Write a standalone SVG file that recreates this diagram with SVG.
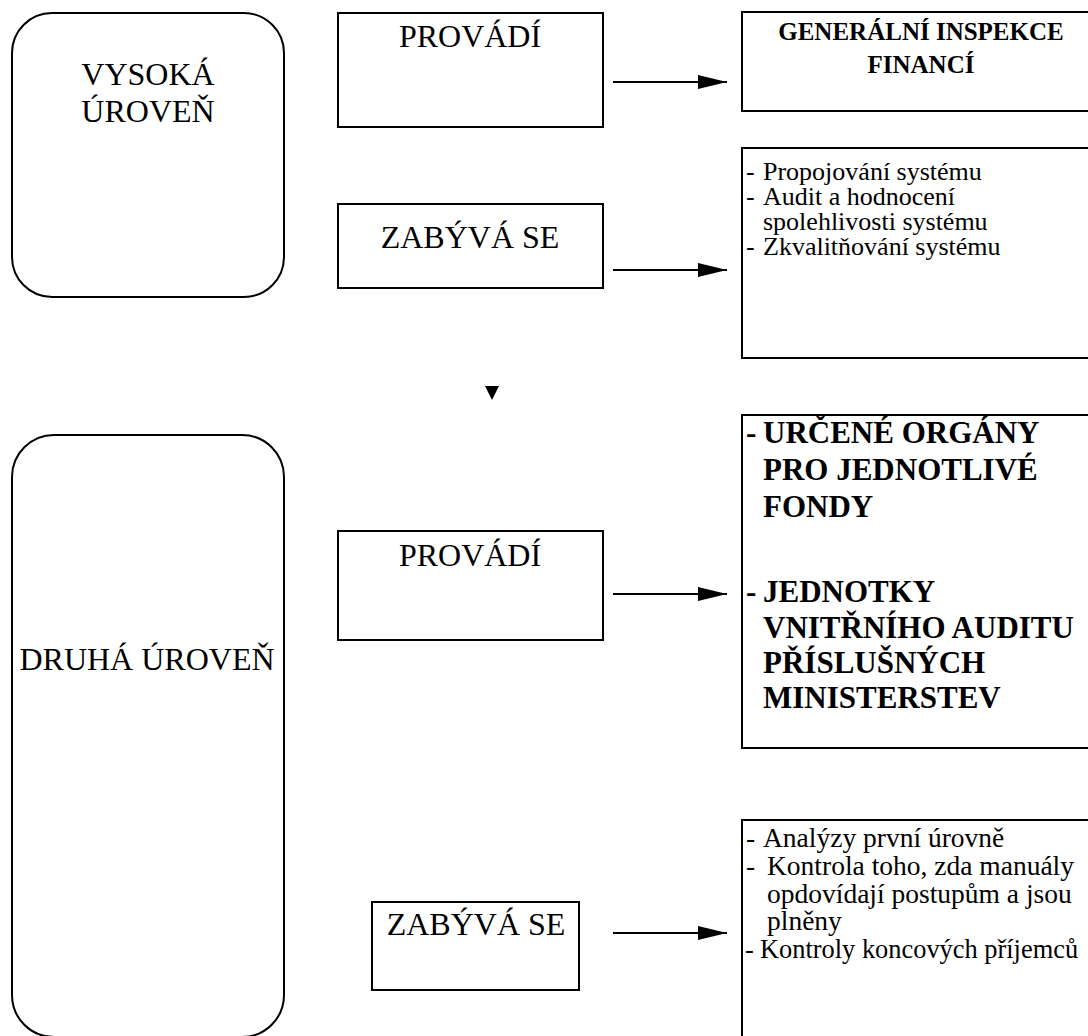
<svg xmlns="http://www.w3.org/2000/svg" width="1088" height="1036" viewBox="0 0 1088 1036">
<defs>
<style>
.box{fill:#fff;stroke:#000;stroke-width:2}
.t{font-family:"Liberation Serif","Times New Roman",serif;fill:#000}
.big{font-size:32px;text-anchor:middle}
.lst{font-size:26px}
.lst2{font-size:27.5px}
.lst3{font-size:26.4px}
.b1{font-size:25px;font-weight:bold;text-anchor:middle}
.b2{font-size:31px;font-weight:bold}
.conn{stroke:#000;stroke-width:2;fill:none}
</style>
<marker id="ah" markerUnits="userSpaceOnUse" markerWidth="30" markerHeight="14" refX="29" refY="7" orient="auto">
<path d="M0,0 L29,7 L0,14 Z" fill="#000"/>
</marker>
</defs>
<rect width="1088" height="1036" fill="#fff"/>
<g id="level-high">
<rect class="box" x="12" y="13" width="272" height="284" rx="40" ry="40"/>
<text class="t big" x="148" y="85">VYSOKÁ</text>
<text class="t big" x="148" y="122">ÚROVEŇ</text>
</g>
<g id="level-second">
<rect class="box" x="12" y="435" width="272" height="602" rx="42" ry="42"/>
<text class="t big" x="147" y="670">DRUHÁ ÚROVEŇ</text>
</g>
<g id="provadi-1">
<rect class="box" x="338" y="13" width="265" height="114"/>
<text class="t big" x="470" y="47">PROVÁDÍ</text>
</g>
<g id="zabyva-1">
<rect class="box" x="338" y="204" width="265" height="84"/>
<text class="t big" x="470" y="248">ZABÝVÁ SE</text>
</g>
<g id="provadi-2">
<rect class="box" x="338" y="531" width="265" height="109"/>
<text class="t big" x="470" y="566">PROVÁDÍ</text>
</g>
<g id="zabyva-2">
<rect class="box" x="372" y="902" width="207" height="88"/>
<text class="t big" x="476" y="935">ZABÝVÁ SE</text>
</g>
<g id="gif">
<rect class="box" x="742" y="12" width="360" height="99"/>
<text class="t b1" x="921" y="40">GENERÁLNÍ INSPEKCE</text>
<text class="t b1" x="921" y="73">FINANCÍ</text>
</g>
<g id="list-1">
<rect class="box" x="742" y="148" width="360" height="210"/>
<text class="t lst" x="746" y="180">-</text>
<text class="t lst" x="763" y="180">Propojování systému</text>
<text class="t lst" x="746" y="205">-</text>
<text class="t lst" x="763" y="205">Audit a hodnocení</text>
<text class="t lst" x="763" y="230">spolehlivosti systému</text>
<text class="t lst" x="746" y="255">-</text>
<text class="t lst" x="763" y="255">Zkvalitňování systému</text>
</g>
<g id="organy">
<rect class="box" x="742" y="415" width="360" height="333"/>
<text class="t b2" x="746" y="443">-</text>
<text class="t b2" x="763" y="443">URČENÉ ORGÁNY</text>
<text class="t b2" x="763" y="480">PRO JEDNOTLIVÉ</text>
<text class="t b2" x="763" y="517">FONDY</text>
<text class="t b2" x="746" y="602">-</text>
<text class="t b2" x="763" y="602">JEDNOTKY</text>
<text class="t b2" x="763" y="638">VNITŘNÍHO AUDITU</text>
<text class="t b2" x="763" y="673">PŘÍSLUŠNÝCH</text>
<text class="t b2" x="763" y="708">MINISTERSTEV</text>
</g>
<g id="list-2">
<rect class="box" x="742" y="820" width="360" height="240"/>
<text class="t lst2" x="746" y="847">-</text>
<text class="t lst2" x="763" y="847">Analýzy první úrovně</text>
<text class="t lst2" x="746" y="875">-</text>
<text class="t lst2" x="767" y="875">Kontrola toho, zda manuály</text>
<text class="t lst2" x="767" y="903">opdovídají postupům a jsou</text>
<text class="t lst2" x="767" y="930">plněny</text>
<text class="t lst3" x="745" y="958">-</text>
<text class="t lst3" x="760" y="958">Kontroly koncových příjemců</text>
</g>
<g id="connectors">
<line class="conn" x1="613" y1="82" x2="727" y2="82" marker-end="url(#ah)"/>
<line class="conn" x1="613" y1="270" x2="727" y2="270" marker-end="url(#ah)"/>
<line class="conn" x1="613" y1="594" x2="727" y2="594" marker-end="url(#ah)"/>
<line class="conn" x1="613" y1="933" x2="727" y2="933" marker-end="url(#ah)"/>
<path d="M485,386 L499,386 L492,400 Z" fill="#000"/>
</g>
</svg>
